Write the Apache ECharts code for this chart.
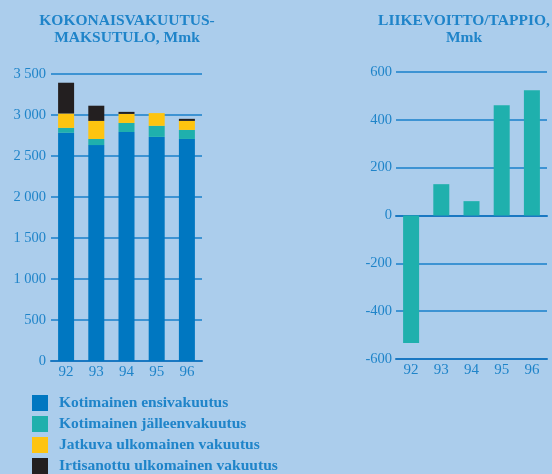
<!DOCTYPE html>
<html>
<head>
<meta charset="utf-8">
<script src="https://cdn.jsdelivr.net/npm/echarts@6/dist/echarts.min.js"></script>
<style>
html,body{margin:0;padding:0;background:#abcdec;}
#c{width:552px;height:474px;}
</style>
</head>
<body>
<div id="c"></div>
<script>
const years = ['92','93','94','95','96'];
const seriesNames = ['Kotimainen ensivakuutus','Kotimainen jälleenvakuutus','Jatkuva ulkomainen vakuutus','Irtisanottu ulkomainen vakuutus'];
const kotimainenEnsi = [2780, 2630, 2790, 2730, 2705];
const kotimainenJalleen = [60, 75, 110, 135, 110];
const jatkuvaUlkomainen = [175, 220, 110, 155, 110];
const irtisanottuUlkomainen = [375, 185, 25, 0, 25];
const liikevoitto = [-533, 131, 60, 461, 524];
const leftTitle = 'KOKONAISVAKUUTUS-\nMAKSUTULO, Mmk';
const rightTitle = 'LIIKEVOITTO/TAPPIO,\nMmk';

const colors = ['#0077c1','#1fb0ad','#fec410','#231f20'];
const txt = '#1f84c9';
const font = 'Liberation Serif';

const chart = echarts.init(document.getElementById('c'), null, {renderer:'canvas'});
const stackData = [kotimainenEnsi, kotimainenJalleen, jatkuvaUlkomainen, irtisanottuUlkomainen];
const series = stackData.map((d,i)=>({
  name: seriesNames[i], type:'bar', stack:'total', xAxisIndex:0, yAxisIndex:0,
  data:d, barWidth:16, itemStyle:{color:colors[i]}
}));
series.push({
  name:'Liikevoitto', type:'bar', xAxisIndex:1, yAxisIndex:1,
  data:liikevoitto, barWidth:16, itemStyle:{color:colors[1]}
});

chart.setOption({
  backgroundColor:'#abcdec',
  animation:false,
  title:[
    {text:leftTitle, left:127, top:12, textAlign:'center', padding:0,
     textStyle:{fontFamily:font, fontSize:15.5, fontWeight:'bold', color:txt, lineHeight:17, align:'center'}},
    {text:rightTitle, left:464, top:12, textAlign:'center', padding:0,
     textStyle:{fontFamily:font, fontSize:15.5, fontWeight:'bold', color:txt, lineHeight:17, align:'center'}}
  ],
  legend:{
    data:seriesNames, orient:'vertical', left:32, top:395, height:120, padding:0,
    itemWidth:16, itemHeight:16, itemGap:5, icon:'rect',
    textStyle:{fontFamily:font, fontSize:15.5, fontWeight:'bold', color:txt, padding:[0,0,0,6]},
    selectedMode:false
  },
  grid:[
    {left:51, width:151, top:73.7, height:287.3},
    {left:396, width:151, top:72, height:287}
  ],
  xAxis:[
    {type:'category', gridIndex:0, data:years,
     axisLine:{lineStyle:{color:'#1a78c2', width:2}}, axisTick:{show:false},
     axisLabel:{fontFamily:font, fontSize:15, color:txt, margin:4}},
    {type:'category', gridIndex:1, data:years, position:'bottom',
     axisLine:{onZero:true, lineStyle:{color:'#1a78c2', width:2}}, axisTick:{show:false},
     axisLabel:{show:false}},
    {type:'category', gridIndex:1, data:years, position:'bottom',
     axisLine:{onZero:false, lineStyle:{color:'#1a78c2', width:2}}, axisTick:{show:false},
     axisLabel:{fontFamily:font, fontSize:15, color:txt, margin:4}}
  ],
  yAxis:[
    {type:'value', gridIndex:0, min:0, max:3500, interval:500,
     axisLine:{show:false}, axisTick:{show:false},
     splitLine:{lineStyle:{color:'#3d93d3', width:2}},
     axisLabel:{fontFamily:font, fontSize:14.5, color:txt, margin:5,
       formatter:v=>String(v).replace(/\B(?=(\d{3})+(?!\d))/g,' ')}},
    {type:'value', gridIndex:1, min:-600, max:600, interval:200,
     axisLine:{show:false}, axisTick:{show:false},
     splitLine:{lineStyle:{color:'#3d93d3', width:2}},
     axisLabel:{fontFamily:font, fontSize:14.5, color:txt, margin:4}}
  ],
  series:series
});
</script>
</body>
</html>
